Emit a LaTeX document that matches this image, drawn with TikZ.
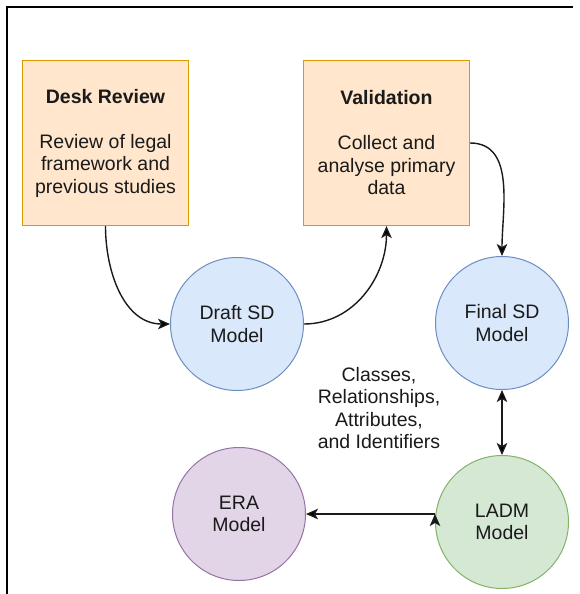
\documentclass[tikz,border=0pt]{standalone}
\usepackage{fontspec}
\setmainfont{Liberation Sans}
\usepackage{tikz}
\usetikzlibrary{positioning,arrows.meta}
\definecolor{taskfill}{HTML}{FFE6CC}
\definecolor{taskline}{HTML}{D79B00}
\definecolor{sdfill}{HTML}{DAE8FC}
\definecolor{sdline}{HTML}{6C8EBF}
\definecolor{ladmfill}{HTML}{D5E8D4}
\definecolor{ladmline}{HTML}{82B366}
\definecolor{erafill}{HTML}{E1D5E7}
\definecolor{eraline}{HTML}{9673A6}
\definecolor{ink}{HTML}{1A1A1A}

\begin{document}
\begin{tikzpicture}[x=1pt,y=1pt,on grid,>={Stealth[length=12pt,width=10.5pt,inset=3pt]},
   font=\fontsize{19.5}{22.5}\selectfont,text=ink,
   task/.style={draw=taskline,fill=taskfill,line width=1.2pt,minimum width=166pt,minimum height=165pt,align=center,inner sep=0pt},
   model/.style={circle,line width=1pt,minimum size=133pt,align=center,inner sep=0pt},
   sd/.style={model,draw=sdline,fill=sdfill},
   ladmst/.style={model,draw=ladmline,fill=ladmfill},
   erast/.style={model,draw=eraline,fill=erafill}]
   \useasboundingbox (0,0) rectangle (579,-594);
   \draw[line width=2pt] (7,-594) -- (7,-7) -- (573,-7);

   \node[task] (desk) at (105.5,-143) {\textbf{Desk Review}\\[22.5pt]Review of legal\\framework and\\previous studies};
   \node[task] (valid) [right=281pt of desk] {\textbf{Validation}\\[22.5pt]Collect and\\analyse primary\\data};
   \node[sd] (draft) [below right=181pt and 131.5pt of desk] {Draft SD\\Model};
   \node[sd] (final) [below right=180pt and 115.5pt of valid] {Final SD\\Model};
   \node[ladmst] (ladm) [below=199pt of final] {LADM\\Model};
   \node[erast] (era) [above left=8pt and 263pt of ladm] {ERA\\Model};
   \node[align=center] (attrs) [below left=85pt and 123pt of final] {Classes,\\Relationships,\\Attributes,\\and Identifiers};

   \path[->,draw=ink,line width=1.4pt]
   (desk.south) edge[out=-90,in=180] (draft.west)
   (draft.east) edge[out=0,in=-90] (valid.south)
   (valid.east) edge[out=0,in=90] (final.north)
   (final.south) edge[<->] (ladm.north)
   (ladm.west |- era.east) edge (era.east);
\end{tikzpicture}
\end{document}
